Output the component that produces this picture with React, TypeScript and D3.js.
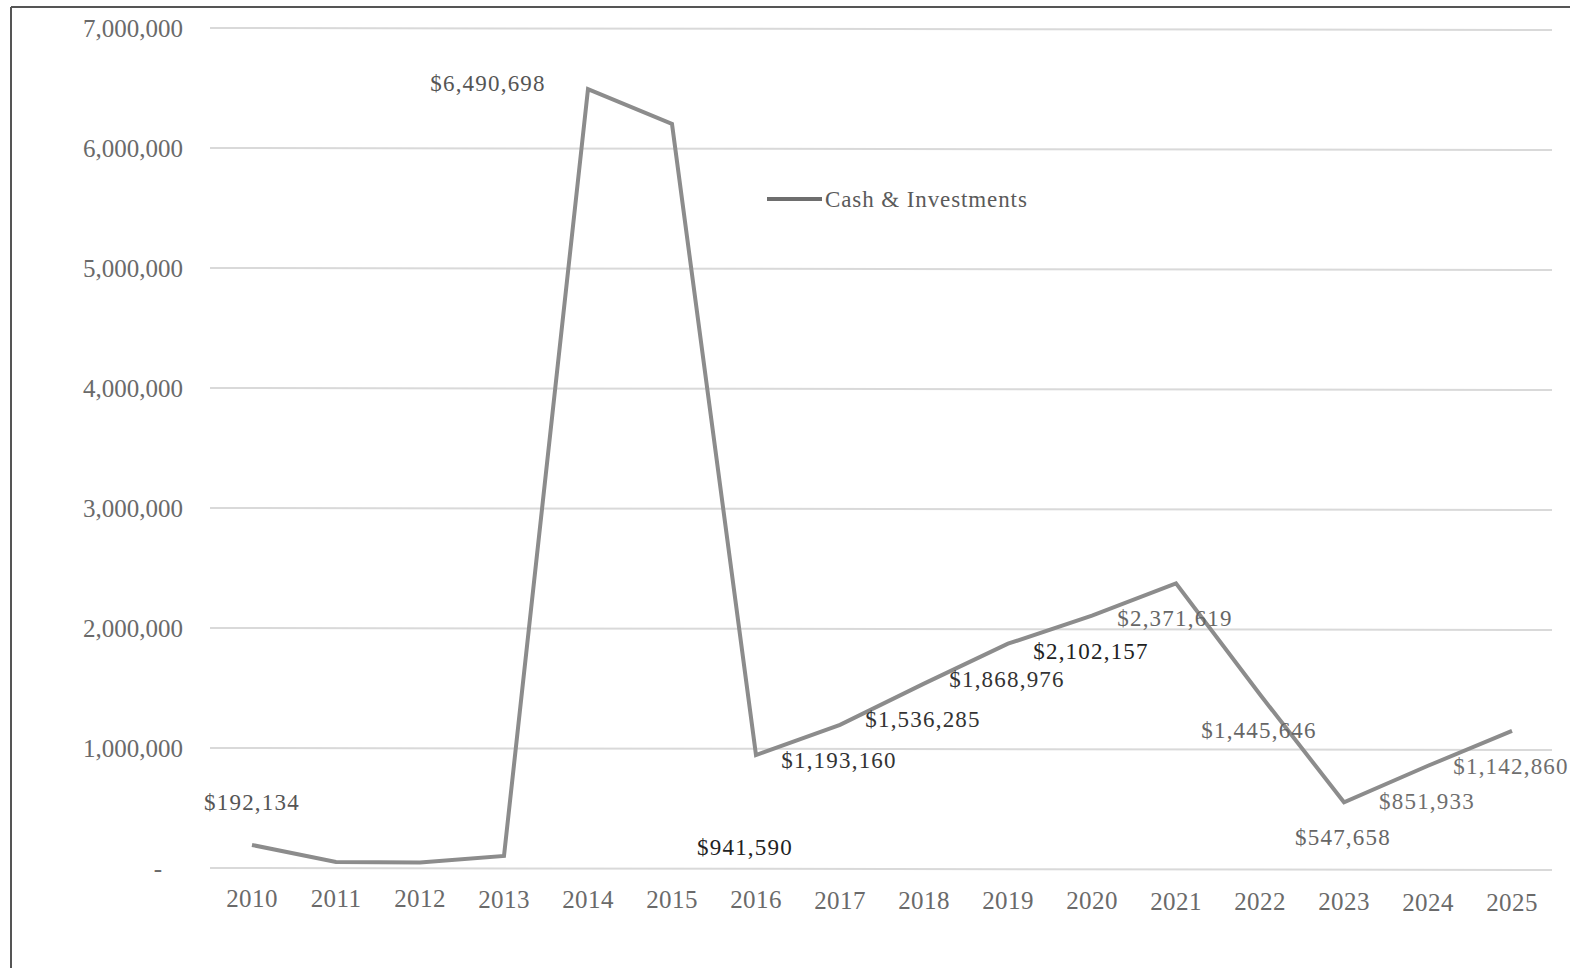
import { useEffect, useRef } from "react";
import * as d3 from "d3";

const years = [
  "2010", "2011", "2012", "2013", "2014", "2015", "2016", "2017",
  "2018", "2019", "2020", "2021", "2022", "2023", "2024", "2025",
];
const cashInvestments = [
  192134, 50000, 45000, 100000, 6490698, 6200000, 941590, 1193160,
  1536285, 1868976, 2102157, 2371619, 1445646, 547658, 851933, 1142860,
];
// which points carry a data label
const labelled = [
  true, false, false, false, true, false, true, true,
  true, true, true, true, true, true, true, true,
];
const yTicks = [0, 1000000, 2000000, 3000000, 4000000, 5000000, 6000000, 7000000];
const seriesName = "Cash & Investments";

const W = 1570;
const H = 968;

// label placement relative to its point, per year
const labelOffset: Record<string, [number, number]> = {
  "2010": [0, -43],
  "2014": [-100, -6],
  "2016": [-11, 92],
};
const labelColor: Record<string, string> = {
  "2016": "#222", "2017": "#333", "2018": "#333", "2019": "#333", "2020": "#222",
  "2023": "#666", "2024": "#6e6e6e", "2025": "#6e6e6e", "2021": "#666", "2022": "#666",
};

export const CashChart = () => {
  const ref = useRef<HTMLDivElement>(null);

  useEffect(() => {
    d3.select(ref.current).select("svg").remove();

    const svg = d3
      .select(ref.current)
      .append("svg")
      .attr("width", W)
      .attr("height", H)
      .style("position", "absolute")
      .style("left", 0)
      .style("top", 0)
      .style("background", "#fff")
      .style("font-family", "'Liberation Serif', serif");

    const x = d3.scaleBand<string>().domain(years).range([210, 1554]).padding(0);
    const y = d3.scaleLinear().domain([0, 7000000]).range([868, 28]);
    const cx = (d: string) => (x(d) as number) + x.bandwidth() / 2;

    // frame
    svg.append("line").attr("x1", 11).attr("x2", 11).attr("y1", 7).attr("y2", H)
      .attr("stroke", "#555").attr("stroke-width", 2);
    svg.append("line").attr("x1", 11).attr("x2", W).attr("y1", 7).attr("y2", 7)
      .attr("stroke", "#555").attr("stroke-width", 2);

    // grid
    svg.append("g")
      .selectAll("line")
      .data(yTicks)
      .enter()
      .append("line")
      .attr("x1", 210)
      .attr("x2", 1552)
      .attr("y1", (d) => y(d))
      .attr("y2", (d) => y(d) + 2)
      .attr("stroke", "#d9d9d9")
      .attr("stroke-width", 2);

    // y labels
    const fmt = d3.format(",");
    svg.append("g")
      .selectAll("text")
      .data(yTicks)
      .enter()
      .append("text")
      .attr("x", (d) => (d === 0 ? 162 : 183))
      .attr("y", (d) => y(d))
      .attr("dy", "0.35em")
      .attr("text-anchor", "end")
      .attr("font-size", 25)
      .attr("fill", "#6a6a6a")
      .text((d) => (d === 0 ? "-" : fmt(d)));

    // x labels
    svg.append("g")
      .selectAll("text")
      .data(years)
      .enter()
      .append("text")
      .attr("x", (d) => cx(d))
      .attr("y", (d, i) => 898 + i * 0.27)
      .attr("dy", "0.35em")
      .attr("text-anchor", "middle")
      .attr("font-size", 25)
      .attr("letter-spacing", 0.4)
      .attr("fill", "#6a6a6a")
      .text((d) => d);

    // line
    const line = d3
      .line<number>()
      .x((_, i) => cx(years[i]))
      .y((d) => y(d));

    svg.append("path")
      .datum(cashInvestments)
      .attr("d", line)
      .attr("fill", "none")
      .attr("stroke", "#8c8c8c")
      .attr("stroke-width", 4)
      .attr("stroke-linejoin", "miter");

    // data labels
    const money = (v: number) => "$" + fmt(v);
    svg.append("g")
      .selectAll("text")
      .data(cashInvestments.map((v, i) => ({ v, year: years[i], show: labelled[i] })).filter((d) => d.show))
      .enter()
      .append("text")
      .attr("x", (d) => cx(d.year) + (labelOffset[d.year]?.[0] ?? -1))
      .attr("y", (d) => y(d.v) + (labelOffset[d.year]?.[1] ?? 35))
      .attr("dy", "0.35em")
      .attr("text-anchor", "middle")
      .attr("font-size", 23)
      .attr("letter-spacing", 1.2)
      .attr("fill", (d) => labelColor[d.year] ?? "#555")
      .text((d) => money(d.v));

    // legend
    const lg = svg.append("g").attr("transform", "translate(767,199)");
    lg.append("line").attr("x1", 0).attr("x2", 55).attr("y1", 0).attr("y2", 0)
      .attr("stroke", "#6e6e6e").attr("stroke-width", 4);
    lg.append("text").attr("x", 58).attr("y", 0).attr("dy", "0.35em")
      .attr("font-size", 23).attr("letter-spacing", 0.9).attr("fill", "#5a5a5a").text(seriesName);
  }, []);

  return <div ref={ref} className="cashChart" />;
};

export default function App() {
  return <CashChart />;
}
